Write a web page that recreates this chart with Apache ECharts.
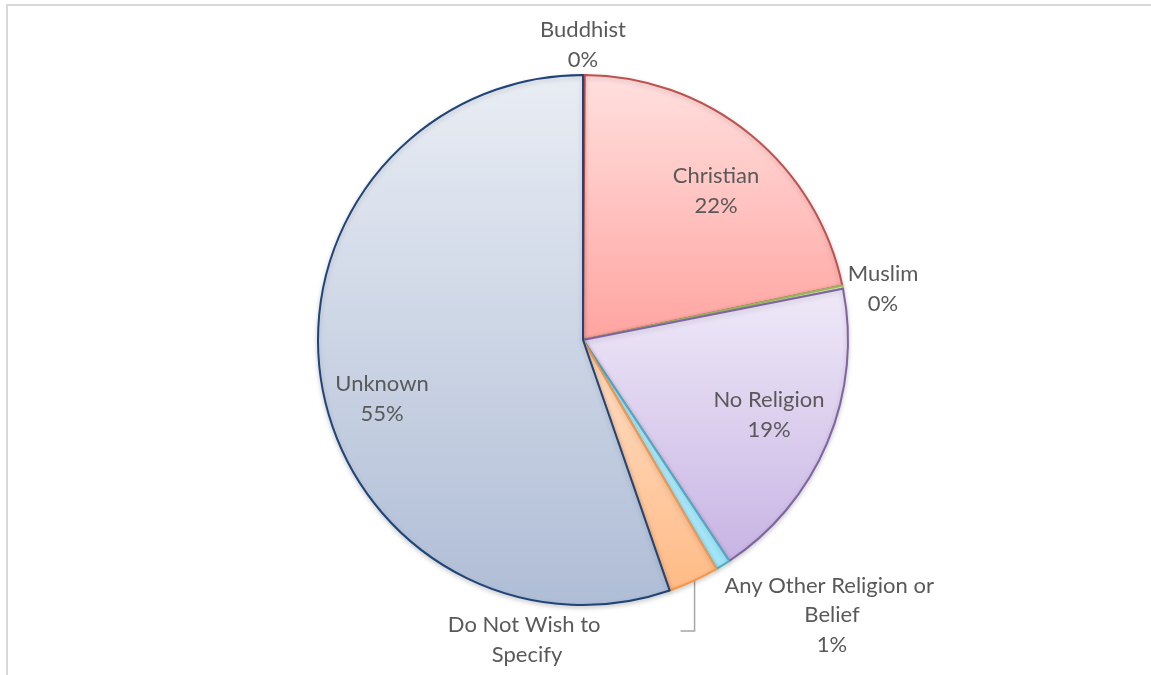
<!DOCTYPE html>
<html>
<head>
<meta charset="utf-8">
<script src="https://cdn.jsdelivr.net/npm/echarts@6/dist/echarts.min.js"></script>
<style>
  html, body { margin: 0; padding: 0; background: #ffffff; }
  #frame {
    position: absolute; left: 6px; top: 4px; width: 1145px; height: 671px;
    border-top: 2px solid #d9d9d9; border-left: 2px solid #d9d9d9;
  }
  #chart { position: absolute; left: 0; top: 0; width: 1151px; height: 675px; }
</style>
</head>
<body>
<div id="frame"></div>
<div id="chart"></div>
<script>
// Religion breakdown (share of records, %)
const categories = [
  'Buddhist',
  'Christian',
  'Muslim',
  'No Religion',
  'Any Other Religion or Belief',
  'Do Not Wish to Specify',
  'Unknown'
];
const shares = [0.1, 21.6, 0.2, 18.8, 0.9, 3.1, 55.3];

// Slice styling: gradient top, gradient bottom, outline
const sliceStyles = [
  ['#E9EEF6', '#B7C9E2', '#4F81BD'],
  ['#FFE0DF', '#FFA4A0', '#C0504D'],
  ['#EAF2DB', '#C3DA92', '#9BBB59'],
  ['#EFE9F8', '#C8B4E4', '#8064A2'],
  ['#C4F1FC', '#9FE4F8', '#4BACC6'],
  ['#FFDFC8', '#FFBB86', '#F79646'],
  ['#E9EDF4', '#AFBDD6', '#1F4477']
];

// Label anchor offsets from the pie centre, wrap widths, and whether the percent is shown
const labelSpots = [
  { dx: 0,    dy: -295, width: 200, pct: true },
  { dx: 133,  dy: -149, width: 200, pct: true },
  { dx: 300,  dy: -51,  width: 200, pct: true },
  { dx: 186,  dy: 75,   width: 200, pct: true },
  { dx: 249,  dy: 275,  width: 228, pct: true },
  { dx: -56,  dy: 300,  width: 172, pct: false },
  { dx: -201, dy: 59,   width: 200, pct: true }
];

const CX = 583, CY = 340, R = 265;
const total = shares.reduce((a, b) => a + b, 0);

// angle (radians, clockwise from 12 o'clock) through the middle of slice i
function midAngle(i) {
  let before = 0;
  for (let k = 0; k < i; k++) before += shares[k];
  return (before + shares[i] / 2) / total * Math.PI * 2;
}

const leaderIndex = categories.indexOf('Do Not Wish to Specify');

const data = categories.map((name, i) => ({
  name: name,
  value: shares[i],
  itemStyle: {
    color: new echarts.graphic.LinearGradient(0, 0, 0, 1, [
      { offset: 0, color: sliceStyles[i][0] },
      { offset: 1, color: sliceStyles[i][1] }
    ]),
    borderColor: sliceStyles[i][2]
  },
  label: { width: labelSpots[i].width },
  labelLine: { show: i === leaderIndex }
}));

const chart = echarts.init(document.getElementById('chart'), null, { renderer: 'canvas' });

chart.setOption({
  animation: false,
  series: [{
    type: 'pie',
    center: [CX, CY],
    radius: R,
    startAngle: 90,
    clockwise: true,
    percentPrecision: 0,
    avoidLabelOverlap: false,
    data: data,
    itemStyle: {
      borderWidth: 2,
      shadowColor: 'rgba(0,0,0,0.18)',
      shadowBlur: 5,
      shadowOffsetY: 2
    },
    label: {
      show: true,
      position: 'outside',
      formatter: function (p) {
        return labelSpots[p.dataIndex].pct ? p.name + '\n' + p.percent + '%' : p.name;
      },
      fontFamily: 'Lato, "Open Sans", sans-serif',
      fontSize: 22,
      lineHeight: 29.5,
      color: '#595959',
      align: 'center',
      overflow: 'break'
    },
    labelLine: {
      show: false,
      lineStyle: { color: '#A6A6A6', width: 1.5 }
    },
    emphasis: { disabled: true },
    labelLayout: function (params) {
      const i = params.dataIndex;
      const spot = labelSpots[i];
      const out = {
        x: CX + spot.dx,
        y: CY + spot.dy,
        align: 'center',
        verticalAlign: 'middle'
      };
      if (i === leaderIndex) {
        const a = midAngle(i);
        const sx = CX + R * Math.sin(a) + 1;
        const sy = CY - R * Math.cos(a);
        const ly = CY + spot.dy - 9;
        out.labelLinePoints = [[sx, sy], [sx, ly], [sx - 14, ly]];
      }
      return out;
    }
  }]
});
</script>
</body>
</html>
